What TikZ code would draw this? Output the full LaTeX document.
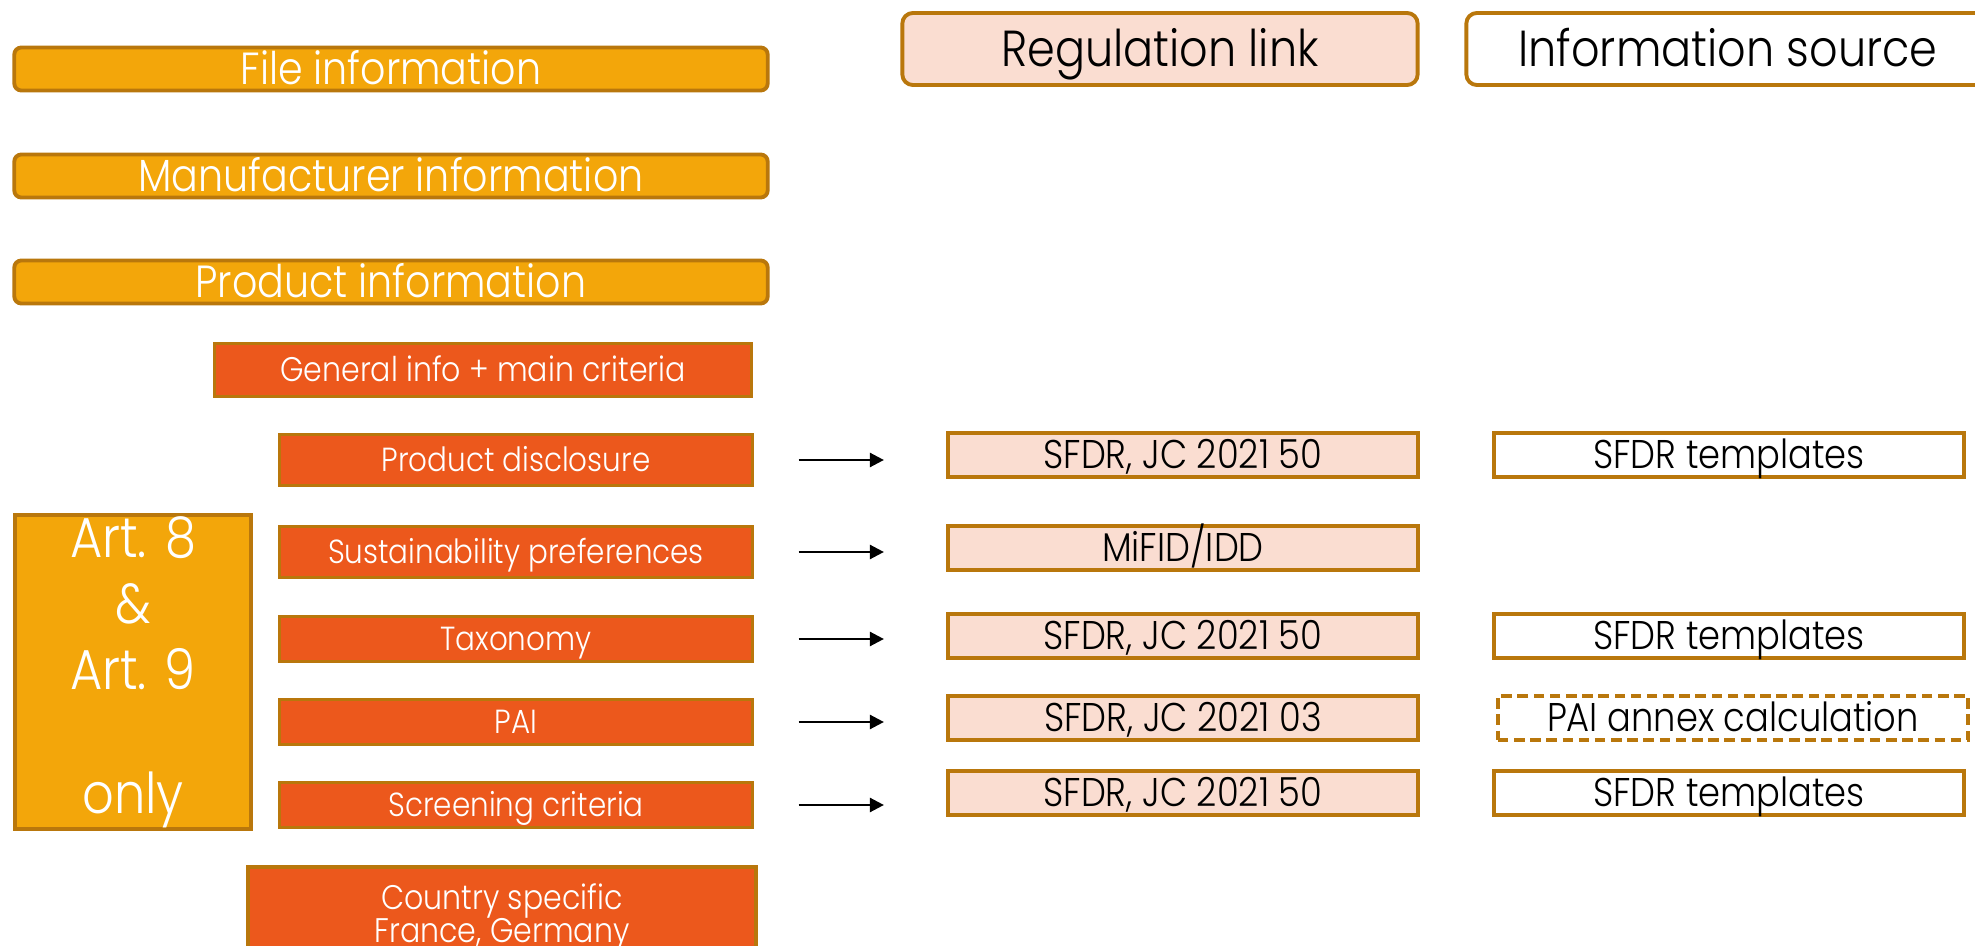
\documentclass[tikz,border=0pt]{standalone}
\usepackage{fontspec}
\setmainfont{Poppins}[UprightFont=* Light, FakeStretch=0.88]
\usetikzlibrary{arrows.meta, positioning}
\usepackage{xcolor}
\definecolor{amber}{HTML}{F3A60A}
\definecolor{rust}{HTML}{EC581C}
\definecolor{blush}{HTML}{FADDD1}
\definecolor{gold}{HTML}{B9770C}

\tikzset{
  topbar/.style={draw=gold, line width=1.1pt, fill=amber, rounded corners=2pt,
    minimum width=7.53cm, minimum height=0.43cm, inner sep=0pt,
    text=white, font=\fontsize{12.8}{14}\selectfont, text height=8.9pt, text depth=0pt},
  header/.style={draw=gold, line width=1.1pt, rounded corners=3pt,
    minimum height=0.72cm, inner sep=0pt,
    font=\fontsize{14.4}{16}\selectfont, text height=10pt, text depth=0pt},
  rustbox/.style={draw=gold, line width=0.85pt, fill=rust, text=white,
    minimum width=4.72cm, minimum height=0.44cm, inner sep=0pt,
    font=\fontsize{9.5}{9.4}\selectfont},
  rowbox/.style={rustbox, text height=6.6pt, text depth=0pt},
  artbox/.style={draw=gold, line width=1.1pt, fill=amber, text=white,
    minimum width=2.36cm, minimum height=3.14cm, inner sep=0pt, align=center,
    font=\fontsize{16}{18.8}\selectfont},
  regbox/.style={draw=gold, line width=1.1pt, fill=blush,
    minimum width=4.7cm, minimum height=0.44cm, inner sep=0pt,
    font=\fontsize{11.4}{12}\selectfont, text height=7.9pt, text depth=0pt},
  srcbox/.style={regbox, fill=white},
  link/.style={-{Triangle[length=0.14cm, width=0.14cm]}, line width=0.7pt,
    shorten <=0.45cm, shorten >=0.62cm}
}

\begin{document}
\begin{tikzpicture}[x=0.01cm, y=-0.01cm]
  \useasboundingbox (0,0) rectangle (1975,946);

  % general blocks
  \node[topbar] (file) at (391,69) {File information};
  \node[topbar] (manu) at (391,176) {Manufacturer information};
  \node[topbar] (prod) at (391,282) {Product information};

  % product sub-blocks
  \node[rowbox, minimum width=5.37cm, minimum height=0.52cm, font=\fontsize{9.7}{10}\selectfont] (gen) at (483,370) {General info + main criteria};
  \node[rowbox, minimum height=0.5cm] (disc) at (516,460) {Product disclosure};
  \node[rowbox, minimum height=0.5cm] (pref) at (516,552) {Sustainability preferences};
  \node[rowbox] (taxo) at (516,639) {Taxonomy};
  \node[rowbox] (pai) at (516,722) {PAI};
  \node[rowbox] (scr) at (516,805) {Screening criteria};
  \node[rustbox, line width=1.1pt, minimum width=5.08cm, minimum height=1.0cm, align=center,
    font=\fontsize{9.7}{9.4}\selectfont] (ctry) at (502,917) {Country specific\\France, Germany};

  \node[artbox] (art) at (133,672) {Art. 8\\\&\\Art. 9\\[16.5pt]only};

  % column headers
  \node[header, fill=blush, minimum width=5.15cm] (reghead) at (1160,49) {Regulation link};
  \node[header, fill=white, minimum width=5.23cm] (srchead) at (1728,49) {Information source};

  % regulation links
  \node[regbox] (reg1) at (1183,455) {SFDR, JC 2021 50};
  \node[regbox] (reg2) at (1183,548) {MiFID/IDD};
  \node[regbox] (reg3) at (1183,636) {SFDR, JC 2021 50};
  \node[regbox] (reg4) at (1183,718) {SFDR, JC 2021 03};
  \node[regbox] (reg5) at (1183,793) {SFDR, JC 2021 50};

  % information sources
  \node[srcbox] (src1) at (1729,455) {SFDR templates};
  \node[srcbox] (src3) at (1729,636) {SFDR templates};
  \node[srcbox, dash pattern=on 3pt off 1.6pt] (src4) at (1733,718) {PAI annex calculation};
  \node[srcbox] (src5) at (1729,793) {SFDR templates};

  \foreach \a/\b in {disc/reg1, pref/reg2, taxo/reg3, pai/reg4, scr/reg5}
    \draw[link] (\a.east) -- (\a.east -| \b.west);
\end{tikzpicture}
\end{document}
